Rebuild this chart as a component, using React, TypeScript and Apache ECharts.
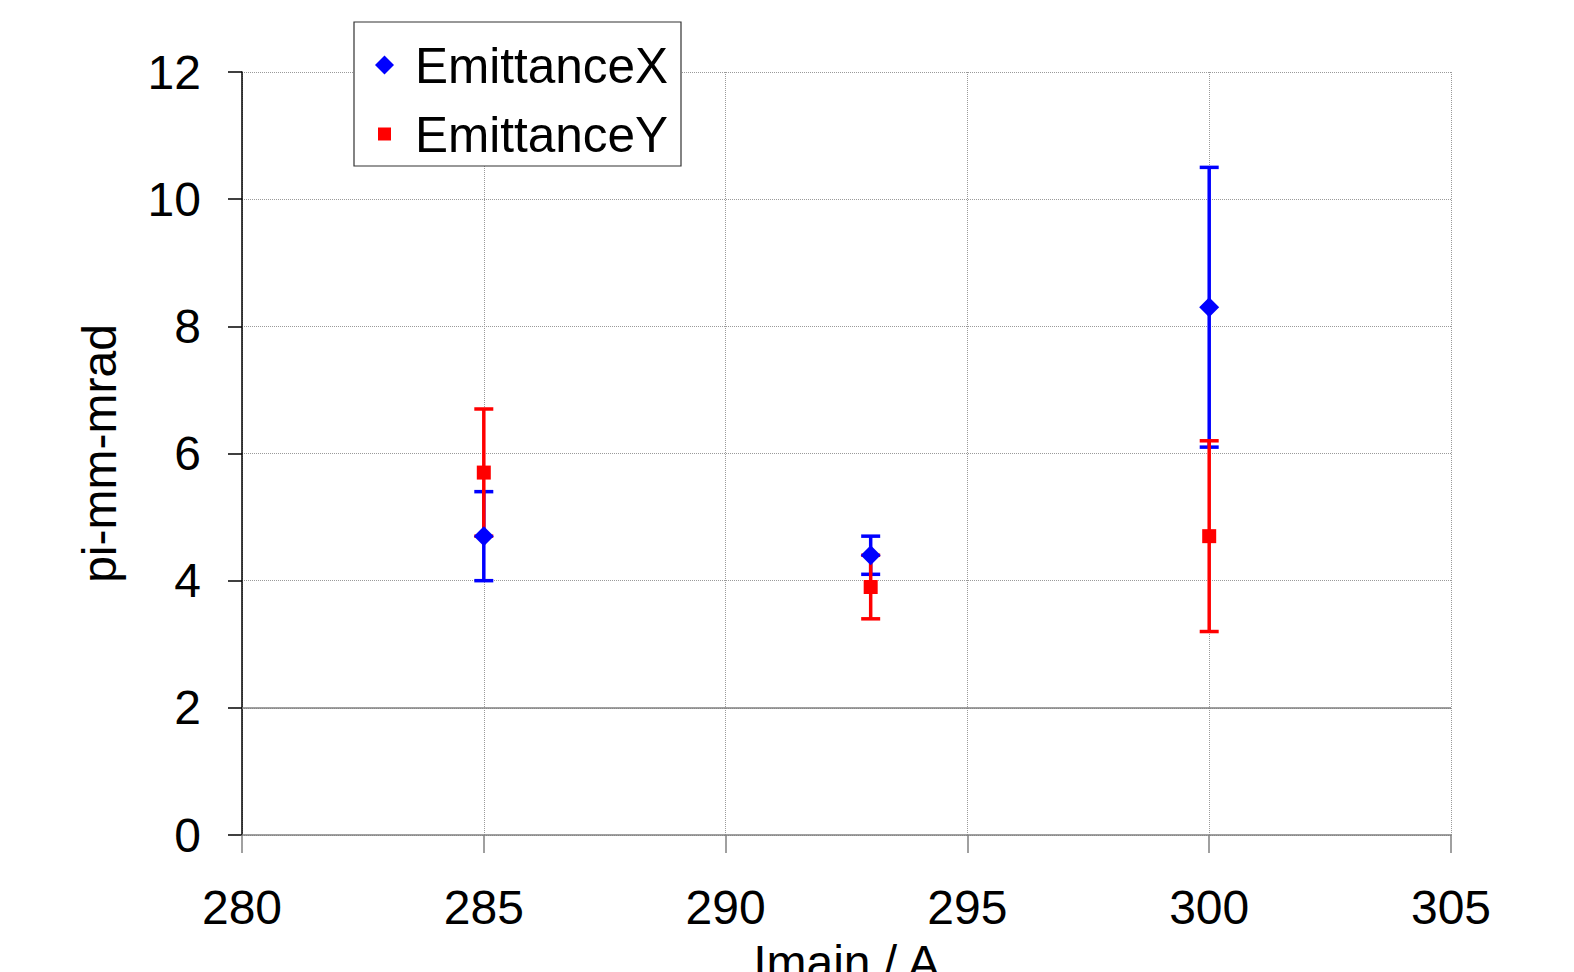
import React, { useEffect, useRef } from "react";
import * as echarts from "echarts";

const currents = [285, 293, 300];
const emitX = [4.7, 4.4, 8.3];
const emitXLow = [4.0, 4.1, 6.1];
const emitXHigh = [5.4, 4.7, 10.5];
const emitY = [5.7, 3.9, 4.7];
const emitYLow = [4.7, 3.4, 3.2];
const emitYHigh = [6.7, 4.4, 6.2];

const xTicks = { min: 280, max: 305, interval: 5 };
const yTicks = { min: 0, max: 12, interval: 2 };

const FONT = "'Liberation Sans', Arial, sans-serif";
const BLUE = "#0000FF";
const RED = "#FF0000";

function errorBarRender(color: string) {
  return (params: any, api: any) => {
    const x = api.value(0);
    const lo = api.value(1);
    const hi = api.value(2);
    const pHi = api.coord([x, hi]);
    const pLo = api.coord([x, lo]);
    const hw = 9.5;
    const st = { stroke: color, lineWidth: 3.5 };
    return {
      type: "group",
      children: [
        { type: "line", shape: { x1: pHi[0], y1: pHi[1], x2: pLo[0], y2: pLo[1] }, style: st },
        { type: "line", shape: { x1: pHi[0] - hw, y1: pHi[1], x2: pHi[0] + hw, y2: pHi[1] }, style: st },
        { type: "line", shape: { x1: pLo[0] - hw, y1: pLo[1], x2: pLo[0] + hw, y2: pLo[1] }, style: st },
      ],
    };
  };
}

export default function App() {
  const ref = useRef<HTMLDivElement>(null);
  useEffect(() => {
    document.body.style.margin = "0";
    const chart = echarts.init(ref.current!, undefined, { renderer: "svg" });
    const xErr = currents.map((c, i) => [c, emitXLow[i], emitXHigh[i]]);
    const yErr = currents.map((c, i) => [c, emitYLow[i], emitYHigh[i]]);
    chart.setOption({
      animation: false,
      backgroundColor: "#ffffff",
      textStyle: { fontFamily: FONT },
      grid: {
        left: 242,
        right: 123,
        top: 72,
        bottom: 137,
        containLabel: false,
        outerBoundsMode: "none",
      },
      xAxis: {
        type: "value",
        min: xTicks.min,
        max: xTicks.max,
        interval: xTicks.interval,
        name: "Imain / A",
        nameLocation: "middle",
        nameGap: 103,
        nameTextStyle: { fontSize: 48, color: "#000", fontFamily: FONT },
        axisLine: { show: true, onZero: false, lineStyle: { color: "#808080", width: 1.5 } },
        axisTick: { show: true, inside: false, length: 18, lineStyle: { color: "#808080", width: 1.5 } },
        axisLabel: { fontSize: 48, color: "#000", margin: 48, fontFamily: FONT },
        splitLine: { show: true, lineStyle: { color: "#9a9a9a", type: "dotted", width: 1 } },
      },
      yAxis: {
        type: "value",
        min: yTicks.min,
        max: yTicks.max,
        interval: yTicks.interval,
        name: "pi-mm-mrad",
        nameLocation: "middle",
        nameRotate: 90,
        nameGap: 119,
        nameTextStyle: { fontSize: 48, color: "#000", fontFamily: FONT },
        axisLine: { show: true, onZero: false, lineStyle: { color: "#000", width: 1.5 } },
        axisTick: { show: true, inside: false, length: 14, lineStyle: { color: "#000", width: 1.5 } },
        axisLabel: { fontSize: 48, color: "#000", margin: 41, fontFamily: FONT },
        splitLine: { show: true, lineStyle: { color: "#9a9a9a", type: "dotted", width: 1 } },
      },
      graphic: [
        {
          type: "rect",
          z: 3,
          shape: { x: 354, y: 22, width: 327, height: 144 },
          style: { fill: "#ffffff", stroke: "#333333", lineWidth: 1.2 },
        },
      ],
      legend: [
        {
          data: [{ name: "EmittanceX", icon: "diamond" }],
          orient: "vertical",
          left: 375,
          top: 40,
          padding: 0,
          itemWidth: 19,
          itemHeight: 19,
          z: 10,
          textStyle: { fontSize: 49.5, lineHeight: 49, color: "#000", fontFamily: FONT, padding: [0, 0, 0, 16] },
        },
        {
          data: [{ name: "EmittanceY", icon: "rect" }],
          orient: "vertical",
          left: 378,
          top: 109,
          padding: 0,
          itemWidth: 13,
          itemHeight: 13,
          z: 10,
          textStyle: { fontSize: 49.5, lineHeight: 49, color: "#000", fontFamily: FONT, padding: [0, 0, 0, 19] },
        },
      ],
      series: [
        {
          name: "EmittanceX err",
          type: "custom",
          renderItem: errorBarRender(BLUE),
          encode: { x: 0, y: [1, 2] },
          data: xErr,
          z: 2,
          silent: true,
        },
        {
          name: "EmittanceY err",
          type: "custom",
          renderItem: errorBarRender(RED),
          encode: { x: 0, y: [1, 2] },
          data: yErr,
          z: 3,
          silent: true,
          markLine: {
            silent: true,
            symbol: "none",
            label: { show: false },
            lineStyle: { color: "#808080", type: "solid", width: 1.5 },
            data: [{ yAxis: 2 }],
          },
        },
        {
          name: "EmittanceX",
          type: "scatter",
          symbol: "diamond",
          symbolSize: [20, 20],
          itemStyle: { color: BLUE, opacity: 1 },
          data: currents.map((c, i) => [c, emitX[i]]),
          z: 4,
        },
        {
          name: "EmittanceY",
          type: "scatter",
          symbol: "rect",
          symbolSize: [14, 14],
          itemStyle: { color: RED, opacity: 1 },
          data: currents.map((c, i) => [c, emitY[i]]),
          z: 5,
        },
      ],
    });
    return () => chart.dispose();
  }, []);
  return <div ref={ref} style={{ width: 1574, height: 972 }} />;
}
